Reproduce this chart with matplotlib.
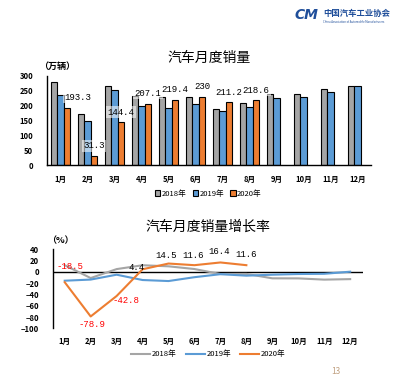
import numpy as np
import matplotlib.pyplot as plt
from matplotlib.patches import Patch
from matplotlib.lines import Line2D

plt.rcParams['font.family'] = ['Noto Sans CJK SC', 'DejaVu Sans']

# 数据
months = ['1月', '2月', '3月', '4月', '5月', '6月', '7月', '8月', '9月', '10月', '11月', '12月']
sales_2018 = [281.0, 172.5, 265.6, 231.9, 228.8, 227.4, 188.9, 210.3, 239.4, 238.0, 254.8, 266.1]
sales_2019 = [236.7, 148.2, 252.2, 198.0, 191.3, 205.6, 180.8, 195.8, 227.1, 228.4, 245.0, 266.5]
sales_2020 = [193.3, 31.3, 144.4, 207.1, 219.4, 230.0, 211.2, 218.6]
growth_2018 = [11.6, -11.1, 4.7, 11.5, 9.6, 4.8, -4.0, -3.8, -11.6, -11.7, -13.9, -13.0]
growth_2019 = [-15.8, -13.8, -5.2, -14.6, -16.4, -9.6, -4.3, -6.9, -5.2, -4.0, -3.6, 0.1]
growth_2020 = [-18.5, -78.9, -42.8, 4.4, 14.5, 11.6, 16.4, 11.6]

c18, c19, c20 = '#A5A5A5', '#5B9BD5', '#ED7D31'
num_font = ['Liberation Mono', 'DejaVu Sans Mono']

fig = plt.figure(figsize=(3.93, 3.85), dpi=100)

# 上图：月度销量
ax1 = fig.add_axes([0.12, 0.571, 0.824, 0.232])
x = np.arange(len(months))
w = 0.24
ax1.bar(x - w, sales_2018, w, color=c18, edgecolor='black', linewidth=0.8, label='2018年')
ax1.bar(x, sales_2019, w, color=c19, edgecolor='black', linewidth=0.8, label='2019年')
x20 = np.arange(len(sales_2020))
ax1.bar(x20 + w, sales_2020, w, color=c20, edgecolor='black', linewidth=0.8, label='2020年')
ax1.set_ylim(0, 300)
ax1.set_xlim(-0.5, 11.5)
ax1.set_yticks(range(0, 301, 50))
ax1.set_xticks(x)
ax1.set_xticklabels(months)
ax1.tick_params(length=0, labelsize=5.5, pad=7)
ax1.tick_params(axis='y', pad=10)
for lab in ax1.get_xticklabels() + ax1.get_yticklabels():
    lab.set_fontweight('bold')
for s in ['top', 'right']:
    ax1.spines[s].set_visible(False)
for s in ['left', 'bottom']:
    ax1.spines[s].set_linewidth(1.0)
for i, v in enumerate(sales_2020):
    dx = 8 if i == 0 else 0
    ax1.annotate('%g' % v if v != int(v) else '%d' % v, (i + w, v), xytext=(dx, 4),
                 textcoords='offset points', ha='center', va='bottom', fontsize=6.5,
                 family=num_font,
                 bbox=dict(boxstyle='square,pad=0.15', facecolor='white', alpha=0.55, edgecolor='none'))
ax1.text(-0.025, 1.05, '（万辆）', transform=ax1.transAxes, fontsize=6.5, fontweight='bold', va='bottom')
ax1.set_title('汽车月度销量', fontsize=10, pad=10)
hs = [Patch(facecolor=c, edgecolor='black', linewidth=0.8) for c in (c18, c19, c20)]
fig.legend(hs, ['2018年', '2019年', '2020年'], loc='center', bbox_to_anchor=(0.53, 0.497), ncol=3,
           frameon=False, fontsize=5.5, handlelength=0.7, handleheight=0.7, handletextpad=0.2,
           columnspacing=0.8)

# 下图：增长率
ax2 = fig.add_axes([0.135, 0.147, 0.789, 0.206])
ax2.plot(x, growth_2018, color=c18, linewidth=1.5)
ax2.plot(x, growth_2019, color=c19, linewidth=1.5)
ax2.plot(x20, growth_2020, color=c20, linewidth=1.5)
ax2.axhline(0, color='black', linewidth=1.0, zorder=1)
ax2.set_ylim(-100, 40)
ax2.set_xlim(-0.45, 11.5)
ax2.set_yticks(range(-100, 41, 20))
ax2.set_xticks(x)
ax2.set_xticklabels(months)
ax2.tick_params(length=0, labelsize=5.5, pad=6)
ax2.tick_params(axis='y', pad=10)
for lab in ax2.get_xticklabels() + ax2.get_yticklabels():
    lab.set_fontweight('bold')
for s in ['top', 'right', 'bottom']:
    ax2.spines[s].set_visible(False)
ax2.spines['left'].set_linewidth(1.0)
offs = [(4, 11), (1, -6), (7, -3), (-4, 1), (-1.5, 6), (-0.7, 7), (-0.7, 8), (0, 8)]
for i, v in enumerate(growth_2020):
    col = 'red' if v < 0 else 'black'
    ax2.annotate('%g' % v, (i, v), xytext=offs[i], textcoords='offset points',
                 ha='center', va='center', fontsize=6.5, color=col, family=num_font)
ax2.text(-0.02, 1.05, '（%）', transform=ax2.transAxes, fontsize=6.5, fontweight='bold', va='bottom')
ax2.set_title('汽车月度销量增长率', fontsize=10, pad=13)
hl = [Line2D([], [], color=c, linewidth=1.5) for c in (c18, c19, c20)]
fig.legend(hl, ['2018年', '2019年', '2020年'], loc='center', bbox_to_anchor=(0.53, 0.08), ncol=3,
           frameon=False, fontsize=5.5, handlelength=2.5, handletextpad=0.2, columnspacing=1.2)

# 页眉标志与页码
fig.text(0.781, 0.962, 'CM', fontsize=10, fontweight='bold', style='italic', color='#1F4E9A',
         ha='center', va='center', family='DejaVu Sans')
fig.text(0.823, 0.966, '中国汽车工业协会', fontsize=6, fontweight='bold', color='#1F4E9A', va='center')
fig.text(0.823, 0.944, 'China Association of Automobile Manufacturers', fontsize=2, color='#1F4E9A', va='center')
fig.text(0.855, 0.035, '13', fontsize=6, color='#C0A080', ha='center', va='center')

fig.savefig('out.png', dpi=100)
